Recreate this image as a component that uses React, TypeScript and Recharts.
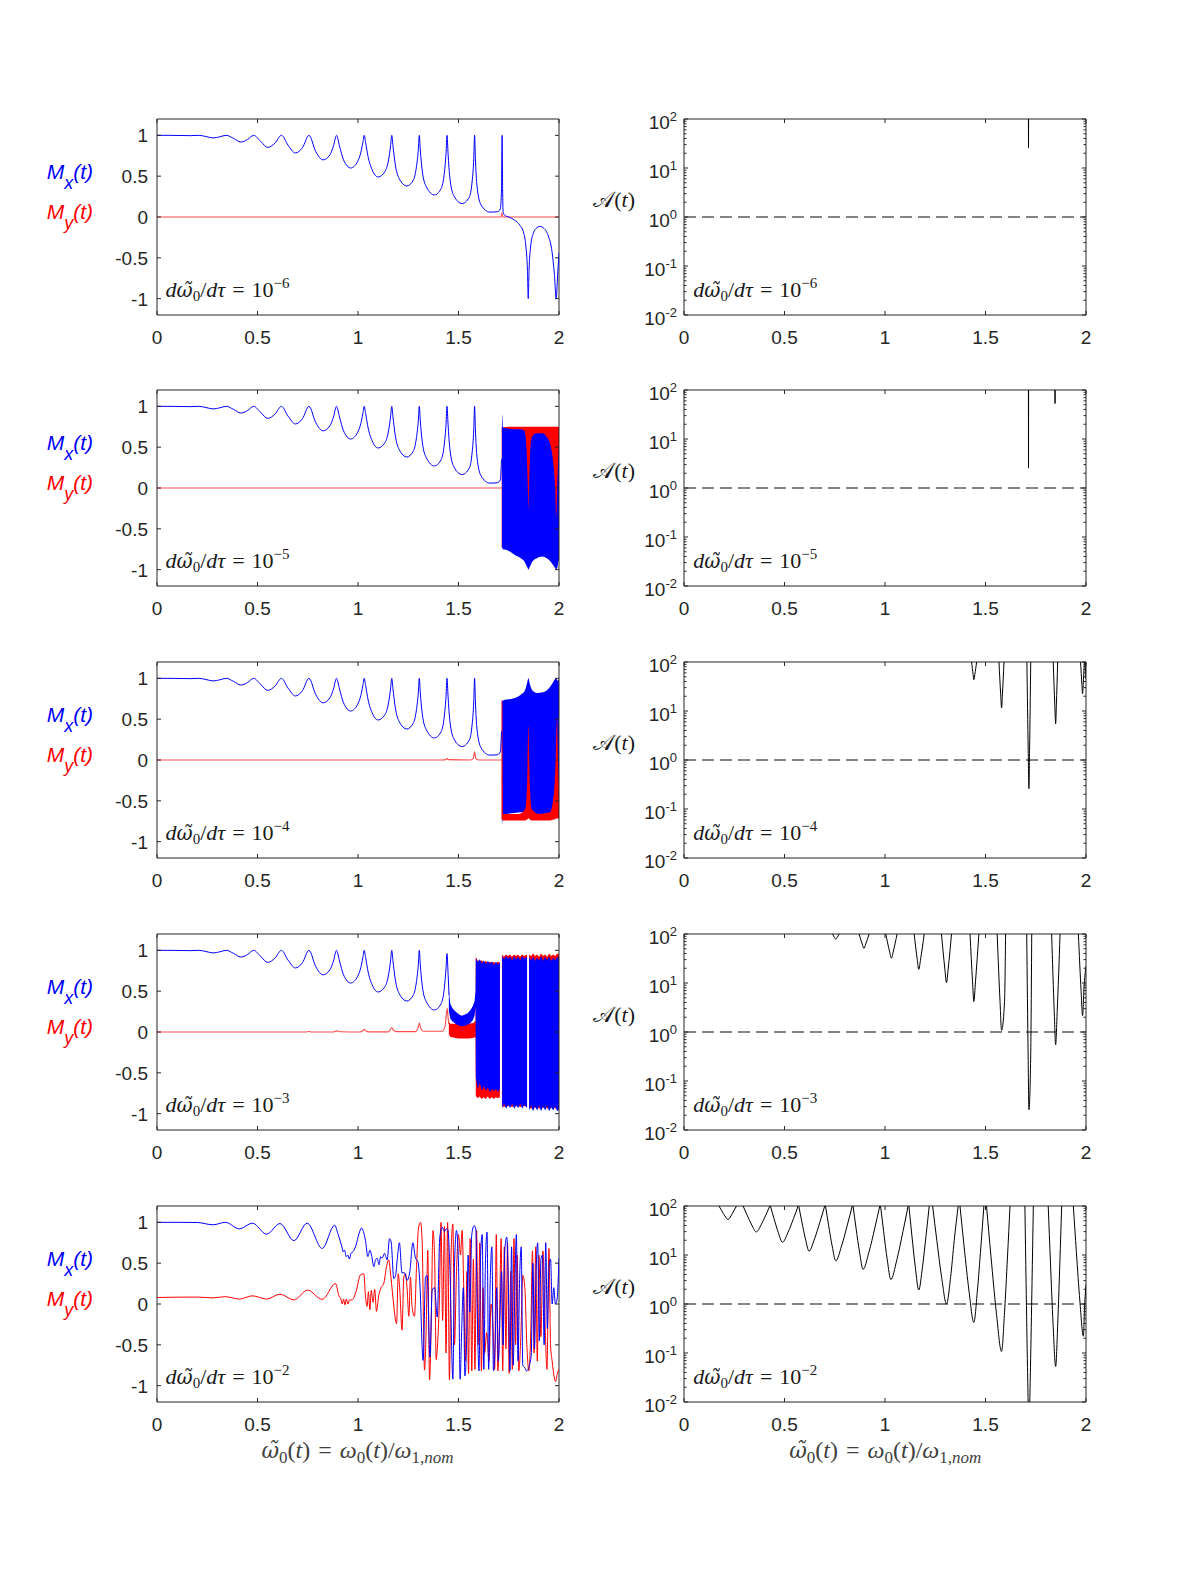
import React from 'react';
import {
  ComposedChart,
  Line,
  Area,
  XAxis,
  YAxis,
  ReferenceLine,
  ReferenceArea,
} from 'recharts';

// ---------------- axes ----------------
const X_TICKS = [0, 0.5, 1, 1.5, 2];
const M_TICKS = [-1, -0.5, 0, 0.5, 1];
const A_MAJOR_TICKS = [0.01, 0.1, 1, 10, 100];
const A_MINOR_TICKS = [
  0.02, 0.03, 0.04, 0.05, 0.06, 0.07, 0.08, 0.09,
  0.2, 0.3, 0.4, 0.5, 0.6, 0.7, 0.8, 0.9,
  2, 3, 4, 5, 6, 7, 8, 9,
  20, 30, 40, 50, 60, 70, 80, 90,
];
const A_TICK_EXP: Record<string, string> = { '0.01': '-2', '0.1': '-1', '1': '0', '10': '1', '100': '2' };
const RATE_EXPONENTS = ['\u22126', '\u22125', '\u22124', '\u22123', '\u22122'];

type Pt = [number, number | null];
type Band = [number, number | null, number | null];

// ---------------- M_x(t): slow sweep (identical for the three slowest rates) ----------------
const MX_SLOW: Pt[] = [
  [0, 1.0], [0.06, 1.0], [0.12, 0.998], [0.165, 0.996], [0.207, 1.0], [0.243, 0.986],
  [0.279, 0.968], [0.312, 0.982], [0.344, 1.0], [0.381, 0.962], [0.417, 0.918], [0.45, 0.948],
  [0.481, 1.0], [0.516, 0.925], [0.551, 0.852], [0.587, 0.905], [0.619, 1.0], [0.652, 0.88],
  [0.688, 0.784], [0.724, 0.85], [0.756, 1.0], [0.79, 0.8], [0.826, 0.70], [0.86, 0.76],
  [0.878, 0.87], [0.893, 1.0], [0.908, 0.87], [0.928, 0.70], [0.964, 0.60], [0.998, 0.68],
  [1.014, 0.79], [1.024, 0.91], [1.031, 1.0], [1.038, 0.91], [1.05, 0.74], [1.07, 0.58],
  [1.10, 0.49], [1.135, 0.56], [1.152, 0.70], [1.162, 0.87], [1.168, 1.0], [1.174, 0.87],
  [1.185, 0.65], [1.205, 0.47], [1.243, 0.38], [1.275, 0.45], [1.291, 0.62], [1.300, 0.82],
  [1.305, 1.0], [1.310, 0.82], [1.320, 0.56], [1.340, 0.37], [1.38, 0.27], [1.414, 0.35],
  [1.430, 0.55], [1.438, 0.78], [1.443, 1.0], [1.448, 0.78], [1.457, 0.48], [1.477, 0.26],
  [1.518, 0.165], [1.553, 0.24], [1.568, 0.44], [1.576, 0.72], [1.580, 1.0], [1.584, 0.72],
  [1.592, 0.38], [1.612, 0.15], [1.656, 0.06], [1.695, 0.065], [1.708, 0.10], [1.714, 0.35],
];

// rate 1e-6: passage through the last resonance
const MX_R1_TAIL: Pt[] = [
  [1.717, 1.0], [1.7195, 0.35], [1.722, 0.06], [1.73, 0.02], [1.75, 0.0], [1.78, -0.04],
  [1.805, -0.1], [1.825, -0.2], [1.836, -0.38], [1.843, -0.65], [1.847, -1.0], [1.851, -0.65],
  [1.858, -0.38], [1.872, -0.2], [1.89, -0.13], [1.905, -0.115], [1.925, -0.14], [1.948, -0.24],
  [1.965, -0.42], [1.977, -0.7], [1.986, -1.0], [1.993, -0.72], [2.0, -0.44],
];
const MY_R1: Pt[] = [[0, 0], [1.712, 0], [1.716, 0.05], [1.72, 0], [2.0, 0]];

// rate 1e-5
const MY_R2: Pt[] = [[0, 0], [1.715, 0]];
const RED_BAND_R2: Band[] = [[1.715, -0.73, 0.74], [1.75, -0.73, 0.75], [2.0, -0.73, 0.75]];
const BLUE_BAND_R2: Band[] = [
  [1.716, -0.72, 0.72], [1.718, -0.73, 0.9], [1.721, -0.75, 0.74], [1.74, -0.76, 0.73],
  [1.78, -0.82, 0.72], [1.81, -0.86, 0.72], [1.828, -0.9, 0.70], [1.838, -0.95, 0.5],
  [1.844, -0.98, 0.1], [1.848, -1.0, -0.27], [1.852, -0.98, 0.1], [1.858, -0.95, 0.5],
  [1.868, -0.9, 0.64], [1.89, -0.86, 0.67], [1.915, -0.84, 0.67], [1.94, -0.86, 0.62],
  [1.958, -0.9, 0.52], [1.972, -0.95, 0.3], [1.981, -0.98, 0.0], [1.986, -1.0, -0.35],
  [1.991, -0.98, 0.0], [1.996, -0.92, 0.35], [2.0, -0.88, 0.5],
];

// rate 1e-4
const MY_R3: Pt[] = [
  [0, 0], [1.42, 0], [1.437, 0.005], [1.443, 0.02], [1.449, 0.005], [1.56, 0.0],
  [1.574, 0.02], [1.58, 0.1], [1.586, 0.02], [1.6, 0.0], [1.714, 0.0],
];
const BLUE_BAND_R3: Band[] = [
  [1.716, -0.80, 0.72], [1.722, -0.70, 0.73], [1.74, -0.66, 0.74], [1.78, -0.65, 0.76],
  [1.81, -0.64, 0.80], [1.83, -0.64, 0.85], [1.842, -0.64, 0.95], [1.848, -0.64, 1.0],
  [1.855, -0.64, 0.93], [1.868, -0.65, 0.85], [1.89, -0.66, 0.82], [1.92, -0.66, 0.83],
  [1.95, -0.65, 0.88], [1.97, -0.64, 0.95], [1.986, -0.63, 1.0], [1.993, -0.64, 0.97],
  [2.0, -0.65, 0.99],
];
const RED_BAND_R3: Band[] = [
  [1.714, -0.72, 0.73], [1.718, -0.73, 0.73], [1.721, -0.74, -0.66], [1.80, -0.74, -0.66],
  [1.832, -0.74, -0.6], [1.842, -0.73, -0.25], [1.848, -0.71, 0.42], [1.854, -0.73, -0.25],
  [1.864, -0.74, -0.6], [1.9, -0.74, -0.66], [1.955, -0.74, -0.64], [1.975, -0.73, -0.4],
  [1.985, -0.72, 0.1], [1.99, -0.71, 0.5], [1.995, -0.72, 0.0], [2.0, -0.72, -0.3],
];

// rate 1e-3
const MX_R4_TAIL: Pt[] = [[1.443, 0.96], [1.448, 0.72], [1.453, 0.45]];
const MY_R4: Pt[] = [
  [0, 0], [0.74, 0], [0.756, 0.006], [0.77, 0], [0.875, 0], [0.893, 0.014], [0.91, 0.003],
  [1.01, 0.0], [1.024, 0.015], [1.031, 0.032], [1.04, 0.012], [1.055, 0.002], [1.15, 0.002],
  [1.16, 0.025], [1.168, 0.055], [1.176, 0.022], [1.19, 0.004], [1.285, 0.005], [1.298, 0.045],
  [1.305, 0.11], [1.312, 0.045], [1.325, 0.01], [1.42, 0.01], [1.434, 0.08], [1.441, 0.25],
  [1.444, 0.29], [1.448, 0.18], [1.452, 0.1],
];
const RED_BAND_R4: Band[] = [
  [1.452, -0.03, 0.12], [1.46, -0.06, 0.10], [1.50, -0.08, 0.10], [1.55, -0.08, 0.10],
  [1.575, -0.07, 0.11], [1.585, -0.06, 0.14],
  [1.586, -0.78, 0.92], [1.595, -0.81, 0.88], [1.605, -0.79, 0.86], [1.615, -0.82, 0.88],
  [1.625, -0.80, 0.85], [1.635, -0.82, 0.87], [1.645, -0.79, 0.85], [1.655, -0.82, 0.86],
  [1.665, -0.80, 0.85], [1.675, -0.82, 0.86], [1.685, -0.80, 0.84], [1.695, -0.81, 0.86],
  [1.706, -0.80, 0.85],
  [1.709, null, null],
  [1.716, -0.90, 0.95], [1.726, -0.92, 0.92], [1.736, -0.90, 0.95], [1.746, -0.91, 0.93],
  [1.756, -0.89, 0.95], [1.766, -0.92, 0.92], [1.776, -0.90, 0.95], [1.786, -0.91, 0.93],
  [1.796, -0.89, 0.95], [1.806, -0.92, 0.92], [1.816, -0.90, 0.95], [1.826, -0.91, 0.93],
  [1.841, -0.90, 0.95],
  [1.845, null, null],
  [1.851, -0.92, 0.95], [1.861, -0.94, 0.93], [1.871, -0.92, 0.96], [1.881, -0.93, 0.93],
  [1.891, -0.91, 0.95], [1.901, -0.94, 0.92], [1.911, -0.92, 0.96], [1.921, -0.93, 0.93],
  [1.931, -0.91, 0.95], [1.941, -0.94, 0.92], [1.951, -0.92, 0.96], [1.961, -0.93, 0.93],
  [1.971, -0.91, 0.95], [1.981, -0.94, 0.93], [1.991, -0.92, 0.96], [2.0, -0.93, 0.95],
];
const BLUE_BAND_R4: Band[] = [
  [1.452, 0.25, 0.5], [1.46, 0.16, 0.34], [1.47, 0.13, 0.29], [1.485, 0.10, 0.25],
  [1.50, 0.08, 0.22], [1.515, 0.07, 0.20], [1.53, 0.075, 0.21], [1.545, 0.09, 0.23],
  [1.56, 0.11, 0.27], [1.572, 0.15, 0.32], [1.58, 0.2, 0.38], [1.585, 0.3, 0.5],
  [1.586, -0.55, 0.90], [1.596, -0.70, 0.86], [1.606, -0.62, 0.89], [1.616, -0.72, 0.84],
  [1.626, -0.66, 0.88], [1.636, -0.72, 0.83], [1.646, -0.68, 0.87], [1.656, -0.74, 0.84],
  [1.666, -0.70, 0.86], [1.676, -0.72, 0.82], [1.686, -0.70, 0.86], [1.696, -0.73, 0.83],
  [1.706, -0.70, 0.85],
  [1.709, null, null],
  [1.717, -0.93, 0.93], [1.727, -0.88, 0.89], [1.737, -0.94, 0.93], [1.747, -0.89, 0.90],
  [1.757, -0.93, 0.92], [1.767, -0.88, 0.88], [1.777, -0.94, 0.93], [1.787, -0.90, 0.89],
  [1.797, -0.93, 0.92], [1.807, -0.88, 0.88], [1.817, -0.94, 0.93], [1.827, -0.89, 0.90],
  [1.841, -0.93, 0.92],
  [1.845, null, null],
  [1.851, -0.96, 0.92], [1.861, -0.90, 0.88], [1.871, -0.97, 0.92], [1.881, -0.91, 0.87],
  [1.891, -0.96, 0.91], [1.901, -0.90, 0.88], [1.911, -0.97, 0.93], [1.921, -0.91, 0.87],
  [1.931, -0.96, 0.92], [1.941, -0.90, 0.88], [1.951, -0.97, 0.92], [1.961, -0.92, 0.87],
  [1.971, -0.96, 0.91], [1.981, -0.91, 0.88], [1.991, -0.97, 0.92], [2.0, -0.95, 0.90],
];

// rate 1e-2
const MX_R5: Pt[] = [
  [0, 1.0], [0.1, 1.0], [0.2, 0.998], [0.279, 0.97], [0.34, 1.0], [0.41, 0.92], [0.475, 0.99],
  [0.545, 0.855], [0.612, 0.985], [0.681, 0.776], [0.747, 0.99], [0.822, 0.68], [0.884, 0.965],
  [0.9, 0.86], [0.913, 0.76], [0.92, 0.70], [0.926, 0.64], [0.933, 0.66], [0.941, 0.58],
  [0.949, 0.60], [0.957, 0.55], [0.965, 0.62], [0.975, 0.64], [0.99, 0.72], [1.005, 0.86],
  [1.017, 0.93], [1.037, 0.78], [1.049, 0.58], [1.059, 0.66], [1.067, 0.60], [1.079, 0.457],
  [1.087, 0.54], [1.095, 0.56], [1.105, 0.48], [1.112, 0.58], [1.12, 0.56], [1.132, 0.62],
  [1.145, 0.54], [1.157, 0.80], [1.165, 0.76], [1.178, 0.31], [1.187, 0.35], [1.195, 0.54],
  [1.206, 0.75], [1.219, 0.38], [1.231, 0.385], [1.244, 0.29], [1.258, 0.40], [1.273, 0.75],
  [1.286, 0.56], [1.298, 0.52], [1.307, 0.29], [1.324, -0.69], [1.336, 0.33], [1.344, 0.35],
  [1.358, -0.65], [1.369, 0.17], [1.381, 0.2], [1.394, -0.16], [1.407, 0.82], [1.419, 0.94],
  [1.430, 0.89], [1.439, 0.92], [1.447, 0.91], [1.457, 0.46], [1.472, -0.92], [1.480, 0.46],
  [1.490, 0.90], [1.500, 0.50], [1.508, -0.92], [1.516, -0.3], [1.524, 0.2], [1.532, -0.88],
  [1.540, -0.5], [1.548, 0.6], [1.556, -0.1], [1.566, 0.85], [1.578, 0.96], [1.586, 0.92],
  [1.594, -0.2], [1.602, -0.82], [1.610, 0.6], [1.618, 0.85], [1.626, -0.8], [1.634, 0.5],
  [1.642, 0.88], [1.650, -0.8], [1.658, 0.3], [1.666, 0.7], [1.674, -0.82], [1.682, -0.5],
  [1.690, 0.2], [1.698, -0.7], [1.706, -0.2], [1.714, 0.4], [1.722, -0.5], [1.730, 0.65],
  [1.740, 0.82], [1.748, 0.25], [1.756, -0.82], [1.764, 0.7], [1.772, -0.75], [1.780, 0.15],
  [1.788, 0.85], [1.796, -0.7], [1.804, 0.3], [1.812, 0.7], [1.820, -0.75], [1.830, -0.78],
  [1.838, -0.82], [1.846, -0.80], [1.854, -0.74], [1.862, -0.62], [1.870, 0.5], [1.878, -0.55],
  [1.886, 0.4], [1.894, 0.75], [1.902, -0.45], [1.910, 0.55], [1.918, 0.6], [1.926, -0.5],
  [1.934, 0.75], [1.942, -0.3], [1.950, 0.45], [1.958, 0.55], [1.966, 0.0], [1.974, 0.2],
  [1.982, 0.0], [1.990, 0.05], [2.0, 0.56],
];
const MY_R5: Pt[] = [
  [0, 0.08], [0.2, 0.085], [0.279, 0.075], [0.34, 0.09], [0.41, 0.06], [0.475, 0.1],
  [0.545, 0.06], [0.612, 0.12], [0.681, 0.05], [0.749, 0.17], [0.822, 0.057], [0.888, 0.25],
  [0.905, 0.1], [0.915, 0.06], [0.922, 0.0], [0.928, 0.06], [0.935, -0.01], [0.942, 0.06],
  [0.950, 0.0], [0.958, 0.05], [0.97, 0.05], [0.99, 0.15], [1.012, 0.355], [1.029, 0.37],
  [1.037, 0.1], [1.045, -0.03], [1.052, 0.15], [1.059, -0.07], [1.066, 0.17], [1.075, 0.02],
  [1.083, 0.18], [1.092, -0.09], [1.103, 0.1], [1.115, 0.2], [1.128, 0.25], [1.142, 0.46],
  [1.153, 0.54], [1.16, 0.42], [1.167, 0.25], [1.175, 0.05], [1.192, -0.24], [1.200, 0.37],
  [1.208, 0.17], [1.219, -0.32], [1.228, 0.33], [1.236, 0.37], [1.244, 0.2], [1.253, -0.15],
  [1.261, 0.33], [1.269, -0.03], [1.281, -0.15], [1.291, 0.45], [1.301, 0.93], [1.311, 1.0],
  [1.319, 0.78], [1.331, -0.81], [1.339, -0.32], [1.347, 0.66], [1.356, -0.93], [1.364, -0.28],
  [1.373, 0.9], [1.381, 0.58], [1.389, -0.68], [1.397, -0.44], [1.405, 0.05], [1.413, 1.0],
  [1.421, -0.2], [1.430, 0.95], [1.438, -0.6], [1.446, 1.0], [1.455, -0.93], [1.463, 0.6],
  [1.472, 0.98], [1.480, -0.5], [1.490, 0.4], [1.500, 0.85], [1.510, 0.6], [1.518, 0.9],
  [1.526, 0.2], [1.534, -0.7], [1.542, 0.4], [1.550, -0.85], [1.558, 0.8], [1.566, -0.82],
  [1.574, 0.55], [1.582, -0.8], [1.590, 0.9], [1.598, -0.5], [1.606, 0.75], [1.614, -0.82],
  [1.622, 0.2], [1.630, -0.6], [1.640, -0.35], [1.652, -0.7], [1.662, 0.0], [1.672, -0.3],
  [1.680, -0.8], [1.688, 0.85], [1.696, -0.82], [1.704, -0.2], [1.712, 0.8], [1.720, -0.82],
  [1.728, 0.7], [1.736, -0.55], [1.744, 0.75], [1.752, -0.85], [1.760, 0.4], [1.768, -0.8],
  [1.776, 0.8], [1.784, -0.5], [1.792, 0.6], [1.800, -0.82], [1.810, -0.4], [1.820, 0.35],
  [1.830, 0.2], [1.840, -0.5], [1.850, -0.82], [1.860, -0.3], [1.868, 0.65], [1.876, -0.6],
  [1.884, 0.7], [1.892, -0.7], [1.900, 0.6], [1.910, -0.4], [1.920, 0.65], [1.932, -0.35],
  [1.940, -0.8], [1.950, 0.68], [1.958, -0.5], [1.966, -0.7], [1.975, -0.88], [1.983, -0.95],
  [1.992, -0.85], [2.0, -0.8],
];

// ---------------- adiabaticity A(t) (values above 100 leave the frame) ----------------
const A_R1: Pt[] = [[1.7135, 150], [1.714, 25.7], [1.7145, 150]];
const A_R2: Pt[] = [
  [1.7135, 150], [1.714, 2.55], [1.7145, 150], [1.8, null],
  [1.8455, 150], [1.846, 53], [1.8465, 150],
];
const A_R3: Pt[] = [
  [1.431, 100], [1.4382, 55.9], [1.442, 43.6], [1.4469, 55.9], [1.456, 100], [1.5, null],
  [1.567, 100], [1.5755, 22.0], [1.58, 11.5], [1.5842, 22.0], [1.592, 100], [1.65, null],
  [1.706, 100], [1.7125, 1.55], [1.716, 0.26], [1.7192, 1.55], [1.725, 100], [1.78, null],
  [1.837, 100], [1.8448, 13.1], [1.849, 5.5], [1.8525, 13.1], [1.859, 100], [1.92, null],
  [1.973, 100], [1.9795, 35.3], [1.983, 22.6], [1.9862, 35.3], [1.992, 100], [1.994, null],
  [1.996, 100], [2.0, 45],
];
const A_R4: Pt[] = [
  [0.739, 100], [0.7494, 84], [0.755, 78], [0.761, 84], [0.772, 100], [0.8, null],
  [0.871, 100], [0.8866, 62.4], [0.895, 51], [0.9041, 62.4], [0.921, 100], [0.95, null],
  [1.004, 100], [1.0222, 45], [1.032, 32], [1.0418, 45], [1.06, 100], [1.1, null],
  [1.145, 100], [1.16, 31.3], [1.168, 19], [1.1775, 31.3], [1.195, 100], [1.24, null],
  [1.281, 100], [1.2973, 20.2], [1.306, 10.2], [1.3148, 20.2], [1.331, 100], [1.38, null],
  [1.423, 100], [1.4354, 10.9], [1.442, 4.2], [1.4504, 10.9], [1.467, 100], [1.51, null],
  [1.558, 100], [1.5723, 4.2], [1.58, 1.08], [1.5947, 4.2], [1.6, 100], [1.65, null],
  [1.705, 100], [1.7122, 0.309], [1.716, 0.026], [1.7248, 0.309], [1.73, 100], [1.78, null],
  [1.829, 100], [1.842, 2.62], [1.849, 0.55], [1.8567, 2.62], [1.871, 100], [1.92, null],
  [1.962, 100], [1.9757, 6.8], [1.983, 2.15], [1.99, 8], [2.0, 22],
];
const A_R5: Pt[] = [
  [0.174, 100], [0.1875, 80.0], [0.2033, 62.7], [0.219, 52.7], [0.2335, 62.7], [0.2481, 80.0], [0.261, 100], [0.27, null],
  [0.294, 100], [0.3138, 65.3], [0.3369, 41.1], [0.36, 29.6], [0.3835, 41.1], [0.4069, 65.3], [0.427, 100], [0.4285, null],
  [0.43, 100], [0.448, 55.1], [0.469, 28.8], [0.49, 18.2], [0.5173, 28.8], [0.5446, 55.1], [0.568, 100], [0.5695, null],
  [0.571, 100], [0.5863, 47.6], [0.6042, 21.3], [0.622, 12.0], [0.6493, 21.3], [0.6766, 47.6], [0.70, 100], [0.702, null],
  [0.704, 100], [0.7193, 40.6], [0.7372, 15.2], [0.755, 7.6], [0.7837, 15.2], [0.8124, 40.6], [0.837, 100], [0.839, null],
  [0.841, 100], [0.856, 35.3], [0.8735, 11.4], [0.891, 5.1], [0.92, 11.4], [0.9491, 35.3], [0.974, 100], [0.976, null],
  [0.978, 100], [0.9933, 29.9], [1.0112, 8.03], [1.029, 3.16], [1.0591, 8.03], [1.0892, 29.9], [1.115, 100], [1.117, null],
  [1.119, 100], [1.1337, 25.1], [1.1509, 5.6], [1.168, 1.93], [1.1862, 5.6], [1.2044, 25.1], [1.22, 100], [1.23, null],
  [1.237, 100], [1.2577, 20], [1.2819, 3.47], [1.306, 1.0], [1.3263, 3.47], [1.3445, 20], [1.364, 100], [1.368, null],
  [1.373, 100], [1.3937, 14.7], [1.4179, 1.84], [1.442, 0.42], [1.4595, 1.84], [1.477, 14.7], [1.492, 100], [1.5, null],
  [1.505, 100], [1.5275, 9.13], [1.5538, 0.678], [1.58, 0.107], [1.5947, 0.678], [1.6094, 9.13], [1.622, 100], [1.66, null],
  [1.696, 100], [1.702, 2.62], [1.709, 0.05], [1.716, 0.003], [1.7237, 0.05], [1.7314, 2.62], [1.738, 100], [1.78, null],
  [1.812, 100], [1.8231, 7.14], [1.836, 0.406], [1.849, 0.053], [1.8595, 0.406], [1.87, 7.14], [1.879, 100], [1.9, null],
  [1.937, 100], [1.952, 11.7], [1.9695, 1.15], [1.987, 0.22], [1.993, 0.9], [2.0, 2.5],
];

// ---------------- layout & style ----------------
const PLOT_W = 402;
const PLOT_H = 196;
const LEFT_X = 156.5;
const RIGHT_X = 684.3;
const ROW_TOP = [118.5, 390.3, 662.1, 933.9, 1205.7];
const Y_AXIS_W = 60;
const PAD_TOP = 10;
const PAD_RIGHT = 10;
const X_AXIS_H = 50;
const AXIS_COLOR = '#262626';
const TICK_LEN = 4;
const BLUE = '#0000ff';
const RED = '#ff0000';
const SANS = "'Liberation Sans', Arial, Helvetica, sans-serif";
const SERIF = "'Liberation Serif', 'DejaVu Serif', serif";
const ACCENT_SERIF = "'DejaVu Serif', 'Liberation Serif', serif";

const asLine = (pts: Pt[]) => pts.map(([x, y]) => ({ x, y }));
const asBand = (pts: Band[]) =>
  pts.map(([x, lo, hi]) => ({ x, r: lo === null || hi === null ? null : [lo, hi] }));

type Series =
  | { kind: 'line'; data: any[]; color: string; width?: number; opacity?: number; curve?: string }
  | { kind: 'band'; data: any[]; color: string; curve?: string };

const line = (pts: Pt[], color: string, opts: any = {}): Series => ({ kind: 'line', data: asLine(pts), color, ...opts });
const band = (pts: Band[], color: string, curve = 'monotone'): Series => ({ kind: 'band', data: asBand(pts), color, curve });

const RED_BASE = { opacity: 0.7, width: 1.1 };

const M_SERIES: Series[][] = [
  [line(MY_R1, RED, RED_BASE), line(MX_SLOW.concat(MX_R1_TAIL), BLUE)],
  [line(MY_R2, RED, RED_BASE), band(RED_BAND_R2, RED, 'linear'), line(MX_SLOW, BLUE), band(BLUE_BAND_R2, BLUE)],
  [line(MY_R3, RED, RED_BASE), line(MX_SLOW, BLUE), band(BLUE_BAND_R3, BLUE), band(RED_BAND_R3, RED)],
  [
    line(MY_R4, RED, RED_BASE),
    band(RED_BAND_R4, RED, 'linear'),
    line(MX_SLOW.filter((p) => p[0] <= 1.438).concat(MX_R4_TAIL), BLUE),
    band(BLUE_BAND_R4, BLUE, 'linear'),
  ],
  [line(MY_R5, RED, { curve: 'monotone' }), line(MX_R5, BLUE, { curve: 'monotone' })],
];

const A_SERIES: { data: Pt[]; curve: string }[] = [
  { data: A_R1, curve: 'linear' },
  { data: A_R2, curve: 'linear' },
  { data: A_R3, curve: 'monotone' },
  { data: A_R4, curve: 'monotone' },
  { data: A_R5, curve: 'monotone' },
];

// ---------------- tick renderers (inward ticks on all four sides) ----------------
const XTick = (props: any) => {
  const { x, y, payload } = props;
  return (
    <g>
      <line x1={x} x2={x} y1={y} y2={y - TICK_LEN} stroke={AXIS_COLOR} />
      <line x1={x} x2={x} y1={y - PLOT_H} y2={y - PLOT_H + TICK_LEN} stroke={AXIS_COLOR} />
      <text x={x} y={y + 29} textAnchor="middle" fontFamily={SANS} fontSize={19} fill={AXIS_COLOR}>
        {String(payload.value)}
      </text>
    </g>
  );
};

const MTick = (props: any) => {
  const { x, y, payload } = props;
  return (
    <g>
      <line x1={x} x2={x + TICK_LEN} y1={y} y2={y} stroke={AXIS_COLOR} />
      <line x1={x + PLOT_W} x2={x + PLOT_W - TICK_LEN} y1={y} y2={y} stroke={AXIS_COLOR} />
      <text x={x - 9} y={y} dy="0.36em" textAnchor="end" fontFamily={SANS} fontSize={19} fill={AXIS_COLOR}>
        {String(payload.value)}
      </text>
    </g>
  );
};

const ATick = (props: any) => {
  const { x, y, payload } = props;
  const exp = A_TICK_EXP[String(payload.value)];
  const len = exp !== undefined ? TICK_LEN : 2.5;
  return (
    <g>
      <line x1={x} x2={x + len} y1={y} y2={y} stroke={AXIS_COLOR} />
      <line x1={x + PLOT_W} x2={x + PLOT_W - len} y1={y} y2={y} stroke={AXIS_COLOR} />
      {exp !== undefined && (
        <text x={x - 7} y={y + 10} textAnchor="end" fontFamily={SANS} fontSize={19} fill={AXIS_COLOR}>
          10
          <tspan dy={-8} fontSize={13}>{exp}</tspan>
        </text>
      )}
    </g>
  );
};

// ---------------- panels ----------------
function MPanel({ row }: { row: number }) {
  const top = ROW_TOP[row];
  return (
    <div style={{ position: 'absolute', left: LEFT_X - Y_AXIS_W, top: top - PAD_TOP }}>
      <ComposedChart
        width={Y_AXIS_W + PLOT_W + PAD_RIGHT}
        height={PAD_TOP + PLOT_H + X_AXIS_H}
        margin={{ top: PAD_TOP, right: PAD_RIGHT, bottom: 0, left: 0 }}
      >
        <XAxis type="number" dataKey="x" domain={[0, 2]} ticks={X_TICKS} interval={0} allowDataOverflow
          axisLine={false} tickLine={false} tickSize={0} tickMargin={0} height={X_AXIS_H} tick={<XTick />} />
        <YAxis type="number" domain={[-1.2, 1.2]} ticks={M_TICKS} interval={0} allowDataOverflow
          axisLine={false} tickLine={false} tickSize={0} tickMargin={0} width={Y_AXIS_W} tick={<MTick />} />
        {M_SERIES[row].map((s, i) =>
          s.kind === 'band' ? (
            <Area key={i} data={s.data} dataKey="r" type={(s.curve || 'linear') as any} stroke="none"
              fill={s.color} fillOpacity={1} dot={false} activeDot={false} connectNulls={false}
              isAnimationActive={false} />
          ) : (
            <Line key={i} data={s.data} dataKey="y" type={(s.curve || 'monotone') as any} stroke={s.color}
              strokeWidth={s.width ?? 1} strokeOpacity={s.opacity ?? 1} dot={false} activeDot={false}
              connectNulls={false} isAnimationActive={false} />
          )
        )}
        <ReferenceArea x1={0} x2={2} y1={-1.2} y2={1.2} fill="none" fillOpacity={0} stroke={AXIS_COLOR}
          strokeWidth={1} ifOverflow="visible" />
      </ComposedChart>
    </div>
  );
}

function APanel({ row }: { row: number }) {
  const top = ROW_TOP[row];
  const s = A_SERIES[row];
  return (
    <div style={{ position: 'absolute', left: RIGHT_X - Y_AXIS_W, top: top - PAD_TOP }}>
      <ComposedChart
        width={Y_AXIS_W + PLOT_W + PAD_RIGHT}
        height={PAD_TOP + PLOT_H + X_AXIS_H}
        margin={{ top: PAD_TOP, right: PAD_RIGHT, bottom: 0, left: 0 }}
      >
        <XAxis type="number" dataKey="x" domain={[0, 2]} ticks={X_TICKS} interval={0} allowDataOverflow
          axisLine={false} tickLine={false} tickSize={0} tickMargin={0} height={X_AXIS_H} tick={<XTick />} />
        <YAxis type="number" scale="log" domain={[0.01, 100]} ticks={[...A_MAJOR_TICKS, ...A_MINOR_TICKS]}
          interval={0} allowDataOverflow axisLine={false} tickLine={false} tickSize={0} tickMargin={0}
          width={Y_AXIS_W} tick={<ATick />} />
        <ReferenceLine y={1} stroke="#5c5c5c" strokeWidth={1.5} strokeDasharray="12 6" />
        <Line data={asLine(s.data)} dataKey="y" type={s.curve as any} stroke="#000000" strokeWidth={1}
          dot={false} activeDot={false} connectNulls={false} isAnimationActive={false} />
        <ReferenceArea x1={0} x2={2} y1={0.01} y2={100} fill="none" fillOpacity={0} stroke={AXIS_COLOR}
          strokeWidth={1} ifOverflow="visible" />
      </ComposedChart>
    </div>
  );
}

// ---------------- text ----------------
// ω carrying a combining tilde, set in a face with mark positioning
function OmegaTilde({ size }: { size: number }) {
  return (
    <tspan fontFamily={ACCENT_SERIF} fontStyle="italic" fontSize={size * 0.9}>
      {'\u03C9\u0303'}
    </tspan>
  );
}

function RateNote({ x, y, exp }: { x: number; y: number; exp: string }) {
  return (
    <text x={x} y={y} fontFamily={SERIF} fontSize={22} fill="#1a1a1a">
      <tspan fontStyle="italic">d</tspan>
      <OmegaTilde size={22} />
      <tspan fontSize={15} dy={4}>0</tspan>
      <tspan dy={-4}>/</tspan>
      <tspan fontStyle="italic">d</tspan>
      <tspan fontStyle="italic">{'\u03C4'}</tspan>
      <tspan dx={7}>=</tspan>
      <tspan dx={7}>10</tspan>
      <tspan fontSize={15} dy={-9}>{exp}</tspan>
    </text>
  );
}

function FreqLabel({ cx, y }: { cx: number; y: number }) {
  return (
    <text x={cx} y={y} textAnchor="middle" fontFamily={SERIF} fontSize={24} fill="#404040">
      <OmegaTilde size={24} />
      <tspan fontSize={17} dy={5}>0</tspan>
      <tspan dy={-5}>(</tspan>
      <tspan fontStyle="italic">t</tspan>
      <tspan>)</tspan>
      <tspan dx={8}>=</tspan>
      <tspan dx={8} fontStyle="italic">{'\u03C9'}</tspan>
      <tspan fontSize={17} dy={5}>0</tspan>
      <tspan dy={-5}>(</tspan>
      <tspan fontStyle="italic">t</tspan>
      <tspan>)/</tspan>
      <tspan fontStyle="italic">{'\u03C9'}</tspan>
      <tspan fontSize={17} dy={5}>1,</tspan>
      <tspan fontSize={17} fontStyle="italic">nom</tspan>
    </text>
  );
}

function Labels() {
  return (
    <svg width={1200} height={1575} style={{ position: 'absolute', left: 0, top: 0, pointerEvents: 'none' }}>
      {ROW_TOP.map((top, i) => (
        <g key={i}>
          <text x={93} y={top + 60} textAnchor="end" fontFamily={SANS} fontStyle="italic" fontSize={21} fill={BLUE}>
            M<tspan dy={10} fontSize={18}>x</tspan>
            <tspan dy={-10}>(t)</tspan>
          </text>
          <text x={93} y={top + 100} textAnchor="end" fontFamily={SANS} fontStyle="italic" fontSize={21} fill={RED}>
            M<tspan dy={10} fontSize={18}>y</tspan>
            <tspan dy={-10}>(t)</tspan>
          </text>
          <text x={635} y={top + 88} textAnchor="end" fontFamily={SERIF} fontSize={22} fill="#1a1a1a">
            <tspan>{'\u{1D49C}'}</tspan>
            <tspan>(</tspan>
            <tspan fontStyle="italic">t</tspan>
            <tspan>)</tspan>
          </text>
          <RateNote x={LEFT_X + 9} y={top + 178} exp={RATE_EXPONENTS[i]} />
          <RateNote x={RIGHT_X + 9} y={top + 178} exp={RATE_EXPONENTS[i]} />
        </g>
      ))}
      <FreqLabel cx={LEFT_X + PLOT_W / 2} y={ROW_TOP[4] + PLOT_H + 56} />
      <FreqLabel cx={RIGHT_X + PLOT_W / 2} y={ROW_TOP[4] + PLOT_H + 56} />
    </svg>
  );
}

export default function App() {
  return (
    <div style={{ position: 'absolute', left: 0, top: 0, width: 1200, height: 1575, background: '#ffffff' }}>
      {ROW_TOP.map((_, i) => (
        <React.Fragment key={i}>
          <MPanel row={i} />
          <APanel row={i} />
        </React.Fragment>
      ))}
      <Labels />
    </div>
  );
}
